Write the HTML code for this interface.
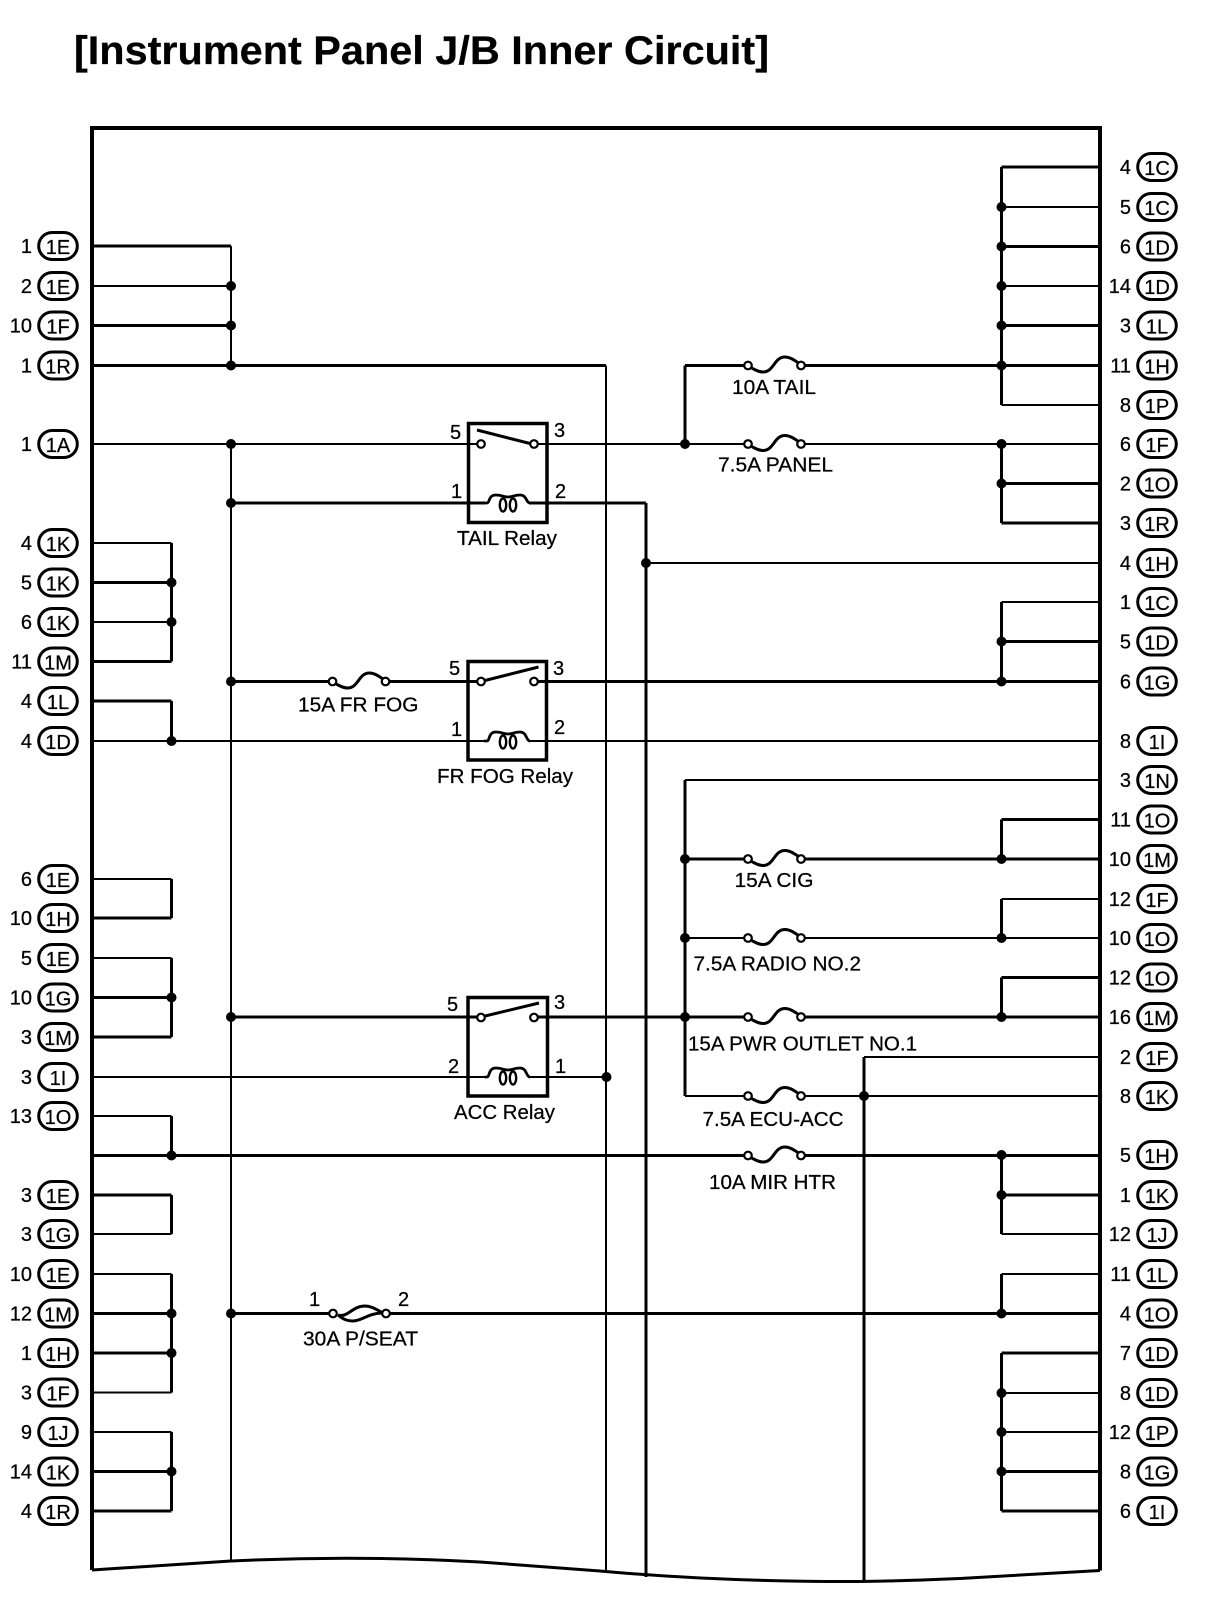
<!DOCTYPE html>
<html><head><meta charset="utf-8"><title>Instrument Panel J/B Inner Circuit</title>
<style>
html,body{margin:0;padding:0;background:#fff}
svg{display:block}
text{font-family:"Liberation Sans",Arial,sans-serif;font-size:20px;fill:#000;stroke:#000;stroke-width:.25}
.n{text-anchor:end}
.t{text-anchor:middle}
.w{fill:none;stroke:#000;shape-rendering:crispEdges}
.f{fill:none;stroke:#000;stroke-width:3}
.c{fill:#fff;stroke:#000;stroke-width:2.200}
.b{fill:#fff;stroke:#000;stroke-width:3}
.d{fill:#000}
</style></head><body>
<svg width="1216" height="1608" viewBox="0 0 1216 1608" xmlns="http://www.w3.org/2000/svg">
<defs>
<rect id="L" x="38.7" y="-13.500" width="38.600" height="27" rx="13.500" class="b"/>
<rect id="R" x="1137.7" y="-13.500" width="38.600" height="27" rx="13.500" class="b"/>
<path id="F" class="f" d="M1 1.500 C6 3 9 6.500 15 6.500 C26 6.500 26 -8.500 37 -8.500 C43 -8.500 48 -4 52 -1.500"/>
<circle id="CC" r="3.800" class="c"/>
</defs>

<text x="74" y="64" textLength="695" lengthAdjust="spacingAndGlyphs" style="font-size:39.5px;font-weight:bold">[Instrument Panel J/B Inner Circuit]</text>

<!-- frame -->
<path d="M92 1570V128H1100V1570.500" fill="none" stroke="#000" stroke-width="4"/>
<path d="M92 1570L231 1561Q355 1555 480 1562L600 1571Q720 1582 860 1581.500Q900 1581 960 1578.500L1100 1570.500" fill="none" stroke="#000" stroke-width="3"/>

<!-- thin wires -->
<path class="w" stroke-width="2" d="M92 286H231 M231 246V365 M231 444V1561 M606 365.500V1571
M92 444H481 M534 444H748 M801 444H1100 M92 543H171.500 M92 622H171.500 M92 741H485 M529 741H1100
M92 879H171.500 M92 958H171.500 M92 1077H485 M528 1077H606 M92 1116H171.500 M92 1234H171.500 M92 1274H171.500 M92 1392.500H171.500 M92 1432H171.500
M646 563H1100 M1001.500 207H1100 M1001.500 286H1100 M1001.500 405H1100 M1001.500 602H1100 M685 780H1100 M685 938H748 M801 938H1100 M1001.500 899H1100 M864 1057H1100 M685 1096H748 M801 1096H1100 M1001.500 1234H1100 M1001.500 1274H1100 M1001.500 1393H1100 M1001.500 1432H1100"/>

<!-- thick wires -->
<path class="w" stroke-width="3" d="M92 246H231 M92 325.500H231 M92 365.500H606 M92 582.500H171.500 M92 661.500H171.500 M92 701H171.500 M92 918H171.500 M92 997.500H171.500 M92 1037H171.500 M92 1155.500H748 M801 1155.500H1100 M92 1195H171.500 M92 1313.500H171.500 M92 1353H171.500 M92 1471.500H171.500 M92 1511H171.500
M171.500 543V661.500 M171.500 701V741 M171.500 879V918 M171.500 958V1037 M171.500 1116V1155 M171.500 1195V1234 M171.500 1274V1392.500 M171.500 1432V1511
M231 503H485 M529 503H646 M646 503V1577 M231 681.500H332 M386 681.500H481 M534 681.500H1100 M231 1017H481 M534 1017H748 M801 1017H1100 M231 1313.500H333 M386 1313.500H1100
M685 365.500V444 M685 365.500H748 M801 365.500H1100 M685 780V1096 M685 859H748 M801 859H1100 M864 1057V1581
M1001.500 167V405 M1001.500 444V523 M1001.500 602V681.500 M1001.500 819.500V859 M1001.500 899V938 M1001.500 977.500V1017 M1001.500 1155V1234 M1001.500 1274V1313.500 M1001.500 1353V1511
M1001.500 167H1100 M1001.500 246.500H1100 M1001.500 325.500H1100 M1001.500 483.500H1100 M1001.500 523H1100 M1001.500 641.500H1100 M1001.500 819.500H1100 M1001.500 977.500H1100 M1001.500 1195H1100 M1001.500 1353H1100 M1001.500 1471.500H1100 M1001.500 1511H1100"/>

<!-- junction dots -->
<g class="d">
<circle cx="231" cy="286" r="5"/><circle cx="231" cy="325.500" r="5"/><circle cx="231" cy="365.500" r="5"/><circle cx="231" cy="444" r="5"/><circle cx="231" cy="503" r="5"/><circle cx="231" cy="681.500" r="5"/><circle cx="231" cy="1017" r="5"/><circle cx="231" cy="1313.500" r="5"/>
<circle cx="171.500" cy="582.500" r="5"/><circle cx="171.500" cy="622" r="5"/><circle cx="171.500" cy="741" r="5"/><circle cx="171.500" cy="997.500" r="5"/><circle cx="171.500" cy="1155.500" r="5"/><circle cx="171.500" cy="1313.500" r="5"/><circle cx="171.500" cy="1353" r="5"/><circle cx="171.500" cy="1471.500" r="5"/>
<circle cx="606.500" cy="1077" r="5"/><circle cx="646" cy="563" r="5"/><circle cx="685" cy="444" r="5"/><circle cx="685" cy="859" r="5"/><circle cx="685" cy="938" r="5"/><circle cx="685" cy="1017" r="5"/><circle cx="864" cy="1096" r="5"/>
<circle cx="1001.500" cy="207" r="5"/><circle cx="1001.500" cy="246.500" r="5"/><circle cx="1001.500" cy="286" r="5"/><circle cx="1001.500" cy="325.500" r="5"/><circle cx="1001.500" cy="365.500" r="5"/><circle cx="1001.500" cy="444" r="5"/><circle cx="1001.500" cy="483.500" r="5"/><circle cx="1001.500" cy="641.500" r="5"/><circle cx="1001.500" cy="681.500" r="5"/><circle cx="1001.500" cy="859" r="5"/><circle cx="1001.500" cy="938" r="5"/><circle cx="1001.500" cy="1017" r="5"/><circle cx="1001.500" cy="1155" r="5"/><circle cx="1001.500" cy="1195" r="5"/><circle cx="1001.500" cy="1313.500" r="5"/><circle cx="1001.500" cy="1393" r="5"/><circle cx="1001.500" cy="1432" r="5"/><circle cx="1001.500" cy="1471.500" r="5"/>
</g>

<!-- fuses -->
<use href="#F" x="748" y="365.500"/><use href="#CC" x="748" y="365.500"/><use href="#CC" x="801" y="365.500"/>
<use href="#F" x="748" y="444"/><use href="#CC" x="748" y="444"/><use href="#CC" x="801" y="444"/>
<use href="#F" x="332.500" y="681.500"/><use href="#CC" x="332.500" y="681.500"/><use href="#CC" x="385.500" y="681.500"/>
<use href="#F" x="748" y="859"/><use href="#CC" x="748" y="859"/><use href="#CC" x="801" y="859"/>
<use href="#F" x="748" y="938"/><use href="#CC" x="748" y="938"/><use href="#CC" x="801" y="938"/>
<use href="#F" x="748" y="1017"/><use href="#CC" x="748" y="1017"/><use href="#CC" x="801" y="1017"/>
<use href="#F" x="748" y="1096"/><use href="#CC" x="748" y="1096"/><use href="#CC" x="801" y="1096"/>
<use href="#F" x="748" y="1155.500"/><use href="#CC" x="748" y="1155.500"/><use href="#CC" x="801" y="1155.500"/>
<path class="f" d="M338 1315C348 1318 352 1306 365 1306C372 1306 377 1310 383 1313M338 1315C344 1320 348 1321 353 1321C362 1321 368 1313 383 1313"/>
<use href="#CC" x="333" y="1313.500"/><use href="#CC" x="386" y="1313.500"/>

<!-- relays -->
<g fill="none" stroke="#000" stroke-width="3.500">
<rect x="468.500" y="423.500" width="78.500" height="99"/>
<rect x="468" y="661.500" width="78.500" height="98.500"/>
<rect x="468" y="997.500" width="79.500" height="98.500"/>
</g>
<g stroke="#000" stroke-width="3" fill="none">
<path d="M477 430L532 444"/><path d="M481 681.500L538.500 667"/><path d="M481 1017L539 1003"/>
<path stroke-width="2.800" d="M484 503H487C490 503 488 495 496 495C502 495 503 497 508 497C513 497 514 495 520 495C527 495 526 503 530 503"/>
<path stroke-width="2.800" d="M484 741H487C490 741 488 732 496 732C502 732 503 734 508 734C513 734 514 732 520 732C527 732 526 741 530 741"/>
<path stroke-width="2.800" d="M485 1077H487C490 1077 488 1068 496 1068C502 1068 503 1070 508 1070C513 1070 514 1068 520 1068C527 1068 526 1077 530 1077"/>
<g stroke-width="2.400"><ellipse cx="503" cy="505" rx="3.200" ry="6.500"/><ellipse cx="513" cy="505" rx="3.200" ry="6.500"/><ellipse cx="503" cy="742" rx="3.200" ry="6.500"/><ellipse cx="513" cy="742" rx="3.200" ry="6.500"/><ellipse cx="503" cy="1078" rx="3.200" ry="6.500"/><ellipse cx="513" cy="1078" rx="3.200" ry="6.500"/></g>
</g>
<use href="#CC" x="481" y="444"/><use href="#CC" x="534" y="444"/>
<use href="#CC" x="481" y="681.500"/><use href="#CC" x="534" y="681.500"/>
<use href="#CC" x="481" y="1017.500"/><use href="#CC" x="534" y="1017.500"/>

<!-- relay pin numbers -->
<text x="450" y="439">5</text><text x="554" y="437">3</text><text x="451" y="498">1</text><text x="555" y="498">2</text>
<text x="449" y="675">5</text><text x="553" y="675">3</text><text x="451" y="736">1</text><text x="554" y="734">2</text>
<text x="447" y="1011">5</text><text x="554" y="1009">3</text><text x="448" y="1073">2</text><text x="555" y="1073">1</text>
<text x="309" y="1306">1</text><text x="398" y="1306">2</text>

<!-- labels -->
<text x="457" y="545" textLength="100" lengthAdjust="spacingAndGlyphs">TAIL Relay</text>
<text x="437" y="783" textLength="136" lengthAdjust="spacingAndGlyphs">FR FOG Relay</text>
<text x="454" y="1119" textLength="101" lengthAdjust="spacingAndGlyphs">ACC Relay</text>
<text x="732" y="394" textLength="84" lengthAdjust="spacingAndGlyphs">10A TAIL</text>
<text x="718" y="471.500" textLength="115" lengthAdjust="spacingAndGlyphs">7.5A PANEL</text>
<text x="298" y="711.500" textLength="120.500" lengthAdjust="spacingAndGlyphs">15A FR FOG</text>
<text x="734.500" y="887" textLength="79" lengthAdjust="spacingAndGlyphs">15A CIG</text>
<text x="693.500" y="970.500" textLength="167.500" lengthAdjust="spacingAndGlyphs">7.5A RADIO NO.2</text>
<text x="688" y="1050.500" textLength="229" lengthAdjust="spacingAndGlyphs">15A PWR OUTLET NO.1</text>
<text x="702.500" y="1126" textLength="141" lengthAdjust="spacingAndGlyphs">7.5A ECU-ACC</text>
<text x="709" y="1189" textLength="127" lengthAdjust="spacingAndGlyphs">10A MIR HTR</text>
<text x="303" y="1345.500" textLength="115" lengthAdjust="spacingAndGlyphs">30A P/SEAT</text>

<!-- left connectors -->
<g transform="translate(0,246)"><use href="#L"/><text class="n" x="32" y="7">1</text><text class="t" x="58" y="8">1E</text></g>
<g transform="translate(0,286)"><use href="#L"/><text class="n" x="32" y="7">2</text><text class="t" x="58" y="8">1E</text></g>
<g transform="translate(0,325.500)"><use href="#L"/><text class="n" x="32" y="7">10</text><text class="t" x="58" y="8">1F</text></g>
<g transform="translate(0,365.500)"><use href="#L"/><text class="n" x="32" y="7">1</text><text class="t" x="58" y="8">1R</text></g>
<g transform="translate(0,444)"><use href="#L"/><text class="n" x="32" y="7">1</text><text class="t" x="58" y="8">1A</text></g>
<g transform="translate(0,543)"><use href="#L"/><text class="n" x="32" y="7">4</text><text class="t" x="58" y="8">1K</text></g>
<g transform="translate(0,582.500)"><use href="#L"/><text class="n" x="32" y="7">5</text><text class="t" x="58" y="8">1K</text></g>
<g transform="translate(0,622)"><use href="#L"/><text class="n" x="32" y="7">6</text><text class="t" x="58" y="8">1K</text></g>
<g transform="translate(0,661.500)"><use href="#L"/><text class="n" x="32" y="7">11</text><text class="t" x="58" y="8">1M</text></g>
<g transform="translate(0,701)"><use href="#L"/><text class="n" x="32" y="7">4</text><text class="t" x="58" y="8">1L</text></g>
<g transform="translate(0,741)"><use href="#L"/><text class="n" x="32" y="7">4</text><text class="t" x="58" y="8">1D</text></g>
<g transform="translate(0,879)"><use href="#L"/><text class="n" x="32" y="7">6</text><text class="t" x="58" y="8">1E</text></g>
<g transform="translate(0,918)"><use href="#L"/><text class="n" x="32" y="7">10</text><text class="t" x="58" y="8">1H</text></g>
<g transform="translate(0,958)"><use href="#L"/><text class="n" x="32" y="7">5</text><text class="t" x="58" y="8">1E</text></g>
<g transform="translate(0,997.500)"><use href="#L"/><text class="n" x="32" y="7">10</text><text class="t" x="58" y="8">1G</text></g>
<g transform="translate(0,1037)"><use href="#L"/><text class="n" x="32" y="7">3</text><text class="t" x="58" y="8">1M</text></g>
<g transform="translate(0,1077)"><use href="#L"/><text class="n" x="32" y="7">3</text><text class="t" x="58" y="8">1I</text></g>
<g transform="translate(0,1116)"><use href="#L"/><text class="n" x="32" y="7">13</text><text class="t" x="58" y="8">1O</text></g>
<g transform="translate(0,1195)"><use href="#L"/><text class="n" x="32" y="7">3</text><text class="t" x="58" y="8">1E</text></g>
<g transform="translate(0,1234)"><use href="#L"/><text class="n" x="32" y="7">3</text><text class="t" x="58" y="8">1G</text></g>
<g transform="translate(0,1274)"><use href="#L"/><text class="n" x="32" y="7">10</text><text class="t" x="58" y="8">1E</text></g>
<g transform="translate(0,1313.500)"><use href="#L"/><text class="n" x="32" y="7">12</text><text class="t" x="58" y="8">1M</text></g>
<g transform="translate(0,1353)"><use href="#L"/><text class="n" x="32" y="7">1</text><text class="t" x="58" y="8">1H</text></g>
<g transform="translate(0,1392.500)"><use href="#L"/><text class="n" x="32" y="7">3</text><text class="t" x="58" y="8">1F</text></g>
<g transform="translate(0,1432)"><use href="#L"/><text class="n" x="32" y="7">9</text><text class="t" x="58" y="8">1J</text></g>
<g transform="translate(0,1471.500)"><use href="#L"/><text class="n" x="32" y="7">14</text><text class="t" x="58" y="8">1K</text></g>
<g transform="translate(0,1511)"><use href="#L"/><text class="n" x="32" y="7">4</text><text class="t" x="58" y="8">1R</text></g>

<!-- right connectors -->
<g transform="translate(0,167)"><use href="#R"/><text class="n" x="1131" y="7">4</text><text class="t" x="1157" y="8">1C</text></g>
<g transform="translate(0,207)"><use href="#R"/><text class="n" x="1131" y="7">5</text><text class="t" x="1157" y="8">1C</text></g>
<g transform="translate(0,246.500)"><use href="#R"/><text class="n" x="1131" y="7">6</text><text class="t" x="1157" y="8">1D</text></g>
<g transform="translate(0,286)"><use href="#R"/><text class="n" x="1131" y="7">14</text><text class="t" x="1157" y="8">1D</text></g>
<g transform="translate(0,325.500)"><use href="#R"/><text class="n" x="1131" y="7">3</text><text class="t" x="1157" y="8">1L</text></g>
<g transform="translate(0,365.500)"><use href="#R"/><text class="n" x="1131" y="7">11</text><text class="t" x="1157" y="8">1H</text></g>
<g transform="translate(0,405)"><use href="#R"/><text class="n" x="1131" y="7">8</text><text class="t" x="1157" y="8">1P</text></g>
<g transform="translate(0,444)"><use href="#R"/><text class="n" x="1131" y="7">6</text><text class="t" x="1157" y="8">1F</text></g>
<g transform="translate(0,483.500)"><use href="#R"/><text class="n" x="1131" y="7">2</text><text class="t" x="1157" y="8">1O</text></g>
<g transform="translate(0,523)"><use href="#R"/><text class="n" x="1131" y="7">3</text><text class="t" x="1157" y="8">1R</text></g>
<g transform="translate(0,563)"><use href="#R"/><text class="n" x="1131" y="7">4</text><text class="t" x="1157" y="8">1H</text></g>
<g transform="translate(0,602)"><use href="#R"/><text class="n" x="1131" y="7">1</text><text class="t" x="1157" y="8">1C</text></g>
<g transform="translate(0,641.500)"><use href="#R"/><text class="n" x="1131" y="7">5</text><text class="t" x="1157" y="8">1D</text></g>
<g transform="translate(0,681.500)"><use href="#R"/><text class="n" x="1131" y="7">6</text><text class="t" x="1157" y="8">1G</text></g>
<g transform="translate(0,741)"><use href="#R"/><text class="n" x="1131" y="7">8</text><text class="t" x="1157" y="8">1I</text></g>
<g transform="translate(0,780)"><use href="#R"/><text class="n" x="1131" y="7">3</text><text class="t" x="1157" y="8">1N</text></g>
<g transform="translate(0,819.500)"><use href="#R"/><text class="n" x="1131" y="7">11</text><text class="t" x="1157" y="8">1O</text></g>
<g transform="translate(0,859)"><use href="#R"/><text class="n" x="1131" y="7">10</text><text class="t" x="1157" y="8">1M</text></g>
<g transform="translate(0,899)"><use href="#R"/><text class="n" x="1131" y="7">12</text><text class="t" x="1157" y="8">1F</text></g>
<g transform="translate(0,938)"><use href="#R"/><text class="n" x="1131" y="7">10</text><text class="t" x="1157" y="8">1O</text></g>
<g transform="translate(0,977.500)"><use href="#R"/><text class="n" x="1131" y="7">12</text><text class="t" x="1157" y="8">1O</text></g>
<g transform="translate(0,1017)"><use href="#R"/><text class="n" x="1131" y="7">16</text><text class="t" x="1157" y="8">1M</text></g>
<g transform="translate(0,1057)"><use href="#R"/><text class="n" x="1131" y="7">2</text><text class="t" x="1157" y="8">1F</text></g>
<g transform="translate(0,1096)"><use href="#R"/><text class="n" x="1131" y="7">8</text><text class="t" x="1157" y="8">1K</text></g>
<g transform="translate(0,1155)"><use href="#R"/><text class="n" x="1131" y="7">5</text><text class="t" x="1157" y="8">1H</text></g>
<g transform="translate(0,1195)"><use href="#R"/><text class="n" x="1131" y="7">1</text><text class="t" x="1157" y="8">1K</text></g>
<g transform="translate(0,1234)"><use href="#R"/><text class="n" x="1131" y="7">12</text><text class="t" x="1157" y="8">1J</text></g>
<g transform="translate(0,1274)"><use href="#R"/><text class="n" x="1131" y="7">11</text><text class="t" x="1157" y="8">1L</text></g>
<g transform="translate(0,1313.500)"><use href="#R"/><text class="n" x="1131" y="7">4</text><text class="t" x="1157" y="8">1O</text></g>
<g transform="translate(0,1353)"><use href="#R"/><text class="n" x="1131" y="7">7</text><text class="t" x="1157" y="8">1D</text></g>
<g transform="translate(0,1393)"><use href="#R"/><text class="n" x="1131" y="7">8</text><text class="t" x="1157" y="8">1D</text></g>
<g transform="translate(0,1432)"><use href="#R"/><text class="n" x="1131" y="7">12</text><text class="t" x="1157" y="8">1P</text></g>
<g transform="translate(0,1471.500)"><use href="#R"/><text class="n" x="1131" y="7">8</text><text class="t" x="1157" y="8">1G</text></g>
<g transform="translate(0,1511)"><use href="#R"/><text class="n" x="1131" y="7">6</text><text class="t" x="1157" y="8">1I</text></g>
</svg>
</body></html>
